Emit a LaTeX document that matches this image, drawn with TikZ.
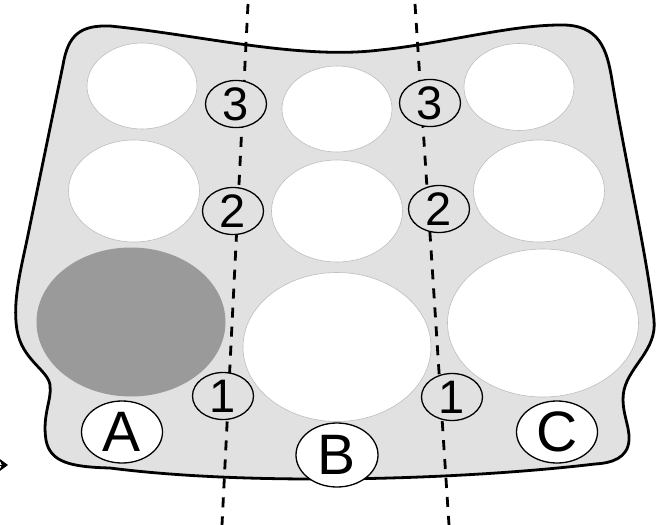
\documentclass[tikz,border=0pt]{standalone}
\usepackage{fontspec}
\setmainfont{Liberation Sans}
\usetikzlibrary{shapes.geometric,arrows.meta}
\definecolor{plate}{HTML}{E1E1E1}
\definecolor{wellgray}{HTML}{9A9A9A}
\definecolor{welledge}{HTML}{BDBDBD}
\begin{document}
\begin{tikzpicture}[x=1pt,y=-1pt,
  plateedge/.style={fill=plate, draw=black, line width=2.8pt, line join=round},
  well/.style={ellipse, fill=white, draw=welledge, line width=0.6pt, inner sep=0pt},
  sample/.style={ellipse, fill=wellgray, draw=none, inner sep=0pt},
  num/.style={ellipse, fill=plate, draw=black, line width=1.3pt, inner sep=0pt,
    minimum width=61pt, minimum height=47pt, font=\fontsize{47}{47}\selectfont},
  letter/.style={ellipse, fill=white, draw=black, line width=1.3pt, inner sep=0pt,
    minimum width=81pt, minimum height=62pt, font=\fontsize{57}{57}\selectfont},
  cut/.style={line width=2.8pt, dash pattern=on 10pt off 9pt},
  pointer/.style={line width=1pt, -{Stealth[length=9pt,width=13pt]}}]
\useasboundingbox (0,0) rectangle (665,525);

% plate outline
\path[plateedge] (63,65) .. controls (68,35) and (80,25) .. (110,26)
  .. controls (200,35) and (300,60) .. (380,50)
  .. controls (440,44) and (510,25) .. (560,25)
  .. controls (600,24) and (607,50) .. (612,80)
  .. controls (625,160) and (648,260) .. (654,320)
  .. controls (657,350) and (630,365) .. (624,390)
  .. controls (620,410) and (630,425) .. (629,440)
  .. controls (628,458) and (612,463) .. (595,464)
  .. controls (460,480) and (250,486) .. (110,468)
  .. controls (70,467) and (50,462) .. (46,440)
  .. controls (42,415) and (52,400) .. (50,385)
  .. controls (48,370) and (22,360) .. (17,330)
  .. controls (12,300) and (22,265) .. (28,235)
  -- cycle;

% wells
\node[well, minimum width=110pt, minimum height=86pt] (w1) at (142,86) {};
\node[well, minimum width=110pt, minimum height=86pt] (w2) at (337,109) {};
\node[well, minimum width=110pt, minimum height=87pt] (w3) at (519,87) {};
\node[well, minimum width=131pt, minimum height=102pt] (w4) at (134,191) {};
\node[well, minimum width=131pt, minimum height=102pt] (w5) at (337,211) {};
\node[well, minimum width=131pt, minimum height=102pt] (w6) at (539,191) {};
\node[sample, minimum width=189pt, minimum height=149pt] (w7) at (131,322) {};
\node[well, minimum width=188pt, minimum height=149pt] (w8) at (337,347) {};
\node[well, minimum width=191pt, minimum height=148pt] (w9) at (543,323) {};

% cut lines
\coordinate (c1top) at (248,4);
\coordinate (c1bot) at (222,525);
\coordinate (c2top) at (415,4);
\coordinate (c2bot) at (449,525);
\draw[cut] (c1top) -- (c1bot);
\draw[cut] (c2top) -- (c2bot);

% numbers
\node[num] (a3) at (236,104) {3};
\node[num] (a2) at (233,211) {2};
\node[num] (a1) at (223,396) {1};
\node[num] (b3) at (430,103) {3};
\node[num] (b2) at (439,209) {2};
\node[num] (b1) at (452,397) {1};

% letters
\node[letter] (A) at (122,432) {A};
\node[letter, minimum width=82pt, minimum height=64pt] (B) at (337,455) {B};
\node[letter] (C) at (557,432) {C};

% pointer at left
\coordinate (ptail) at (-30,465);
\coordinate (ptip) at (8,465);
\draw[pointer] (ptail) -- (ptip);
\end{tikzpicture}
\end{document}
